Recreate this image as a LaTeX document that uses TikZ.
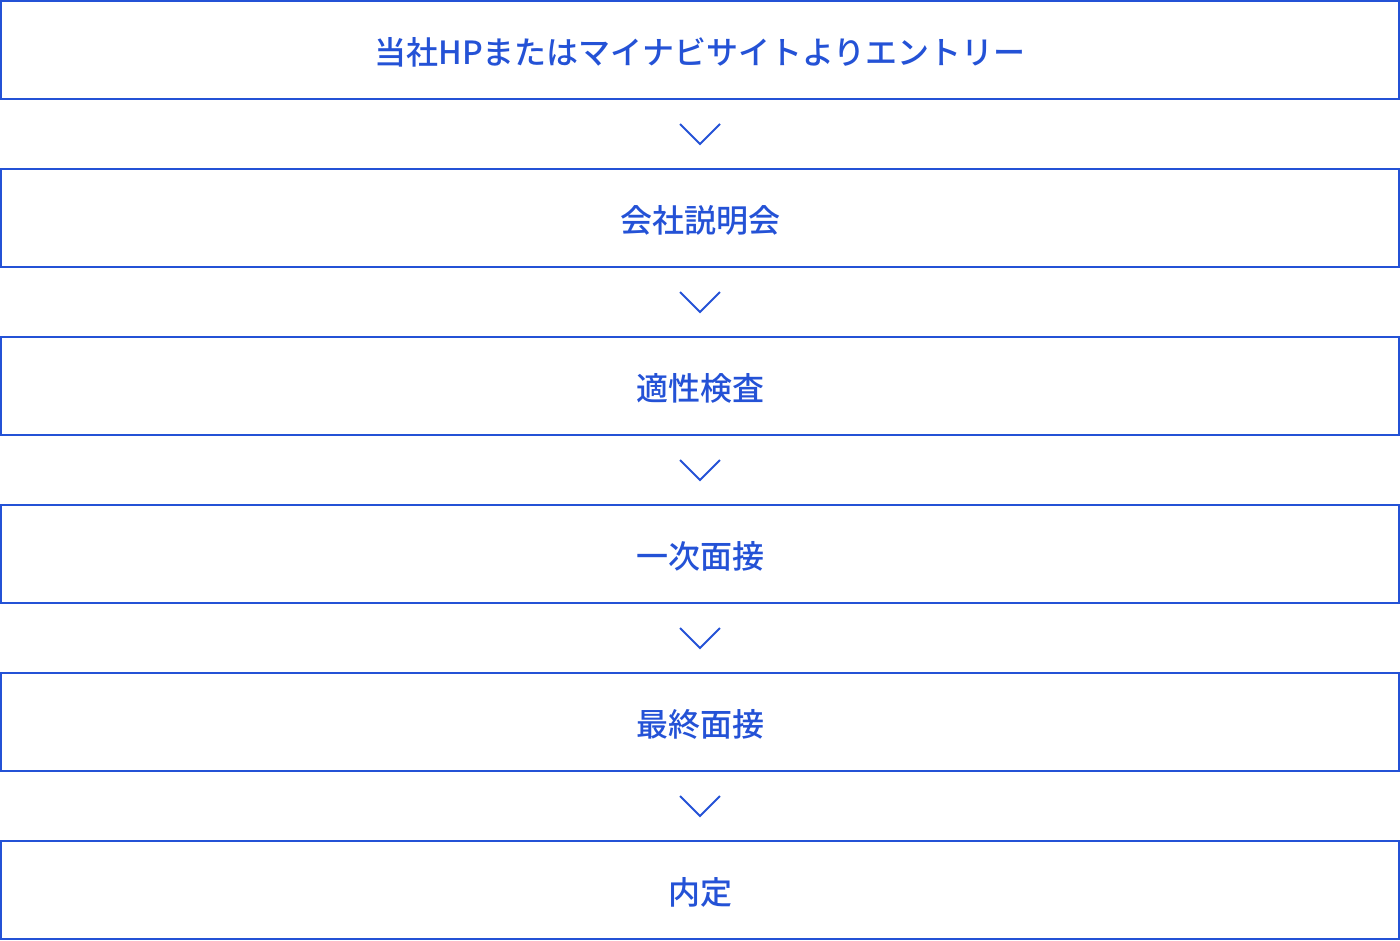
\documentclass[tikz,border=0pt]{standalone}
\usepackage{fontspec}
\newfontfamily\jp{Noto Sans CJK JP Medium}
\usetikzlibrary{calc}
\definecolor{flowblue}{RGB}{36,82,214}

\begin{document}
\begin{tikzpicture}[x=0.75pt,y=-0.75pt,
	stagebox/.style={draw=flowblue, line width=1.5pt, outer sep=0pt, inner sep=0pt,
		minimum width=1048.5pt, minimum height=73.5pt, text=flowblue,
		font=\jp\fontsize{24}{28}\selectfont},
	chevron/.style={draw=flowblue, line width=1.5pt}]

\def\width{1400}
\def\height{940}
\def\ox{\fpeval{\width /2}}

\path [use as bounding box] (0,0) rectangle (\width,\height);

% STAGES
\foreach \i/\t in {0/当社HPまたはマイナビサイトよりエントリー, 1/会社説明会, 2/適性検査, 3/一次面接, 4/最終面接, 5/内定}
	\node [stagebox] (s\i) at (\ox,50+168*\i) {\raisebox{-1.5pt}[\height][\depth]{\t}};

% CHEVRONS
\foreach \i [evaluate=\i as \j using int(\i+1)] in {0,...,4}
	\draw [chevron] ($(s\i.south)!0.5!(s\j.north)$) +(-20,-10) -- +(0,10) -- +(20,-10);

\end{tikzpicture}
\end{document}
